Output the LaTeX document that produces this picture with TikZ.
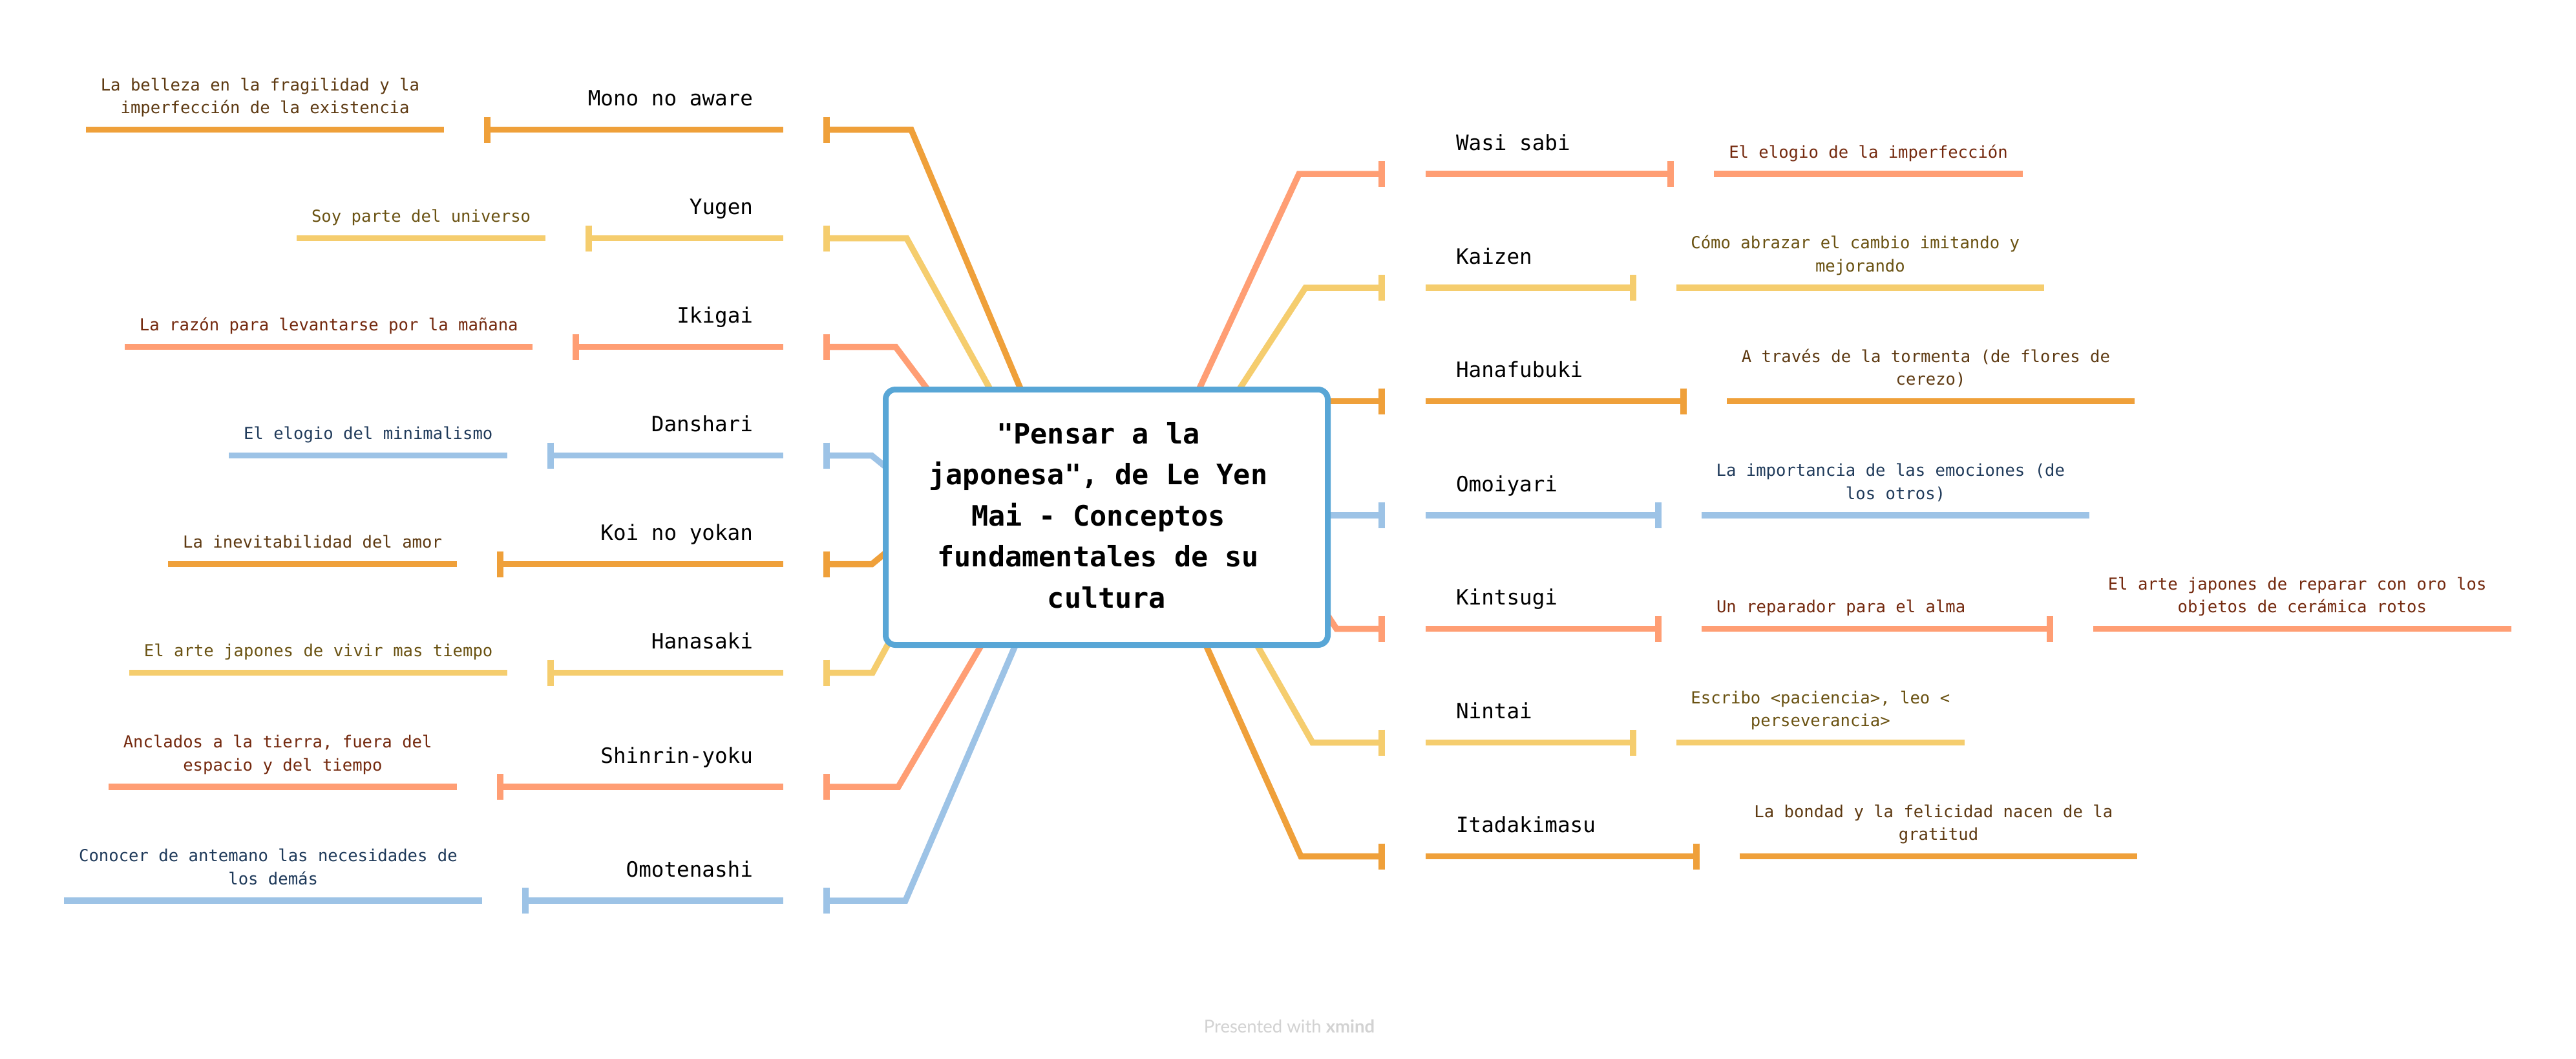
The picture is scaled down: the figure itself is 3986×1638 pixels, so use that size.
\documentclass[tikz,border=0pt]{standalone}
\usepackage{fontspec}
\setmonofont{DejaVu Sans Mono}
\newfontfamily\footfont{Lato}
\definecolor{cOr}{HTML}{EFA03A}
\definecolor{cYe}{HTML}{F5CD6E}
\definecolor{cSa}{HTML}{FF9E74}
\definecolor{cBl}{HTML}{9DC3E6}
\definecolor{cBox}{HTML}{58A6D6}
\definecolor{tOr}{HTML}{5E3A12}
\definecolor{tYe}{HTML}{6A5212}
\definecolor{tSa}{HTML}{74290E}
\definecolor{tBl}{HTML}{1F3A5A}
\definecolor{footgray}{HTML}{D2D2D2}
\tikzset{
  conn/.style={line width=9.5pt, line cap=butt, line join=miter},
  tk/.style={line width=10pt, line cap=butt},
  maintxt/.style={inner sep=0pt, outer sep=0pt, text=black, font=\ttfamily\fontsize{32.6}{39}\selectfont},
  subtxt/.style={inner sep=0pt, outer sep=0pt, anchor=base, font=\ttfamily\fontsize{25.6}{35.5}\selectfont},
}
\newcommand\sublines[1]{\begin{tabular}[b]{@{}c@{}}#1\end{tabular}}
% #1 id, #2 y, #3 colour, #4 main tick x, #5 elbow x, #6 end point, #7 sub left, #8 sub right
\newcommand\branchL[8]{%
  \coordinate (#1-ct) at (1279,#2);
  \coordinate (#1-el) at (#5,#2);
  \coordinate (#1-en) at (#6);
  \coordinate (#1-mL) at (#4,#2);
  \coordinate (#1-mR) at (1212,#2);
  \coordinate (#1-sL) at (#7,#2);
  \coordinate (#1-sR) at (#8,#2);
  \draw[conn,#3] (#1-ct) -- (#1-el) -- (#1-en);
  \draw[conn,#3] (#1-mL) -- (#1-mR);
  \draw[conn,#3] (#1-sL) -- (#1-sR);
  \draw[tk,#3] ([yshift=20pt]#1-ct) -- ([yshift=-20pt]#1-ct);
  \draw[tk,#3] ([yshift=20pt]#1-mL) -- ([yshift=-20pt]#1-mL);
}
% #1 id, #2 y, #3 colour, #4 elbow x, #5 end point, #6 main tick x, #7 sub left, #8 sub right
\newcommand\branchR[8]{%
  \coordinate (#1-ct) at (2138,#2);
  \coordinate (#1-el) at (#4,#2);
  \coordinate (#1-en) at (#5);
  \coordinate (#1-mL) at (2206,#2);
  \coordinate (#1-mR) at (#6,#2);
  \coordinate (#1-sL) at (#7,#2);
  \coordinate (#1-sR) at (#8,#2);
  \draw[conn,#3] (#1-en) -- (#1-el) -- (#1-ct);
  \draw[conn,#3] (#1-mL) -- (#1-mR);
  \draw[conn,#3] (#1-sL) -- (#1-sR);
  \draw[tk,#3] ([yshift=20pt]#1-ct) -- ([yshift=-20pt]#1-ct);
  \draw[tk,#3] ([yshift=20pt]#1-mR) -- ([yshift=-20pt]#1-mR);
}
\begin{document}
\begin{tikzpicture}[x=1pt,y=-1pt]
\useasboundingbox[fill=white] (0,0) rectangle (3986,1638);

% ---------------- left side ----------------
\branchL{mono}{200.7}{cOr}{754.2}{1410}{1587,620}{133}{687.2}
\node[maintxt, anchor=base east] (mono) at (1165,163.7) {Mono no aware};
\node[subtxt, text=tOr] (mono-s) at (410.1,175.7) {\sublines{La belleza en la fragilidad y la\hphantom{x}\\imperfección de la existencia}};

\branchL{yugen}{368.7}{cYe}{911}{1403}{1542,620}{459.2}{844}
\node[maintxt, anchor=base east] (yugen) at (1165,331.7) {Yugen};
\node[subtxt, text=tYe] (yugen-s) at (651.6,343.7) {\sublines{Soy parte del universo}};

\branchL{ikigai}{536.7}{cSa}{891.4}{1386}{1448.5,620}{193.2}{824.4}
\node[maintxt, anchor=base east] (ikigai) at (1165,499.7) {Ikigai};
\node[subtxt, text=tSa] (ikigai-s) at (508.8,511.7) {\sublines{La razón para levantarse por la mañana}};

\branchL{dansh}{704.7}{cBl}{852.2}{1349}{1385,734}{354.2}{785.2}
\node[maintxt, anchor=base east] (dansh) at (1165,667.7) {Danshari};
\node[subtxt, text=tBl] (dansh-s) at (569.7,679.7) {\sublines{El elogio del minimalismo}};

\branchL{koi}{872.7}{cOr}{773.8}{1349}{1385,843}{260.4}{706.8}
\node[maintxt, anchor=base east] (koi) at (1165,835.7) {Koi no yokan};
\node[subtxt, text=tOr] (koi-s) at (483.6,847.7) {\sublines{La inevitabilidad del amor}};

\branchL{hanas}{1040.7}{cYe}{852.2}{1350}{1383,980}{200.2}{785.2}
\node[maintxt, anchor=base east] (hanas) at (1165,1003.7) {Hanasaki};
\node[subtxt, text=tYe] (hanas-s) at (492.7,1015.7) {\sublines{El arte japones de vivir mas tiempo}};

\branchL{shin}{1217}{cSa}{773.8}{1390}{1529,980}{168}{706.8}
\node[maintxt, anchor=base east] (shin) at (1165,1180) {Shinrin-yoku};
\node[subtxt, text=tSa] (shin-s) at (437.4,1192) {\sublines{Anclados a la tierra, fuera del\hphantom{x}\\espacio y del tiempo}};

\branchL{omot}{1393}{cBl}{813}{1401}{1579,980}{99.4}{746}
\node[maintxt, anchor=base east] (omot) at (1165,1356) {Omotenashi};
\node[subtxt, text=tBl] (omot-s) at (422.7,1368) {\sublines{Conocer de antemano las necesidades de\hphantom{x}\\los demás}};

% ---------------- right side ----------------
\branchR{wasi}{269}{cSa}{2010}{1847,620}{2585.4}{2652.4}{3129.6}
\node[maintxt, anchor=base west] (wasi) at (2253,232) {Wasi sabi};
\node[subtxt, text=tSa] (wasi-s) at (2891,244) {\sublines{El elogio de la imperfección}};

\branchR{kaizen}{445}{cYe}{2020}{1906,620}{2526.6}{2593.6}{3163.2}
\node[maintxt, anchor=base west] (kaizen) at (2253,408) {Kaizen};
\node[subtxt, text=tYe] (kaizen-s) at (2878.4,420) {\sublines{Cómo abrazar el cambio imitando y\hphantom{x}\\mejorando}};

\branchR{hanaf}{620.7}{cOr}{2060}{2040,620.7}{2605}{2672}{3303.2}
\node[maintxt, anchor=base west] (hanaf) at (2253,583.7) {Hanafubuki};
\node[subtxt, text=tOr] (hanaf-s) at (2987.6,595.7) {\sublines{A través de la tormenta (de flores de\hphantom{x}\\cerezo)}};

\branchR{omoi}{797}{cBl}{2060}{2040,797}{2565.8}{2632.8}{3233.2}
\node[maintxt, anchor=base west] (omoi) at (2253,760) {Omoiyari};
\node[subtxt, text=tBl] (omoi-s) at (2933,772) {\sublines{La importancia de las emociones (de\hphantom{x}\\los otros)}};

\branchR{kints}{972.7}{cSa}{2068}{2040,930}{2565.8}{2632.8}{3172}
\draw[tk,cSa] ([yshift=20pt]kints-sR) -- ([yshift=-20pt]kints-sR);
\coordinate (kints-ssL) at (3239,972.7);
\coordinate (kints-ssR) at (3885.6,972.7);
\draw[conn,cSa] (kints-ssL) -- (kints-ssR);
\node[maintxt, anchor=base west] (kints) at (2253,935.7) {Kintsugi};
\node[subtxt, anchor=base west, text=tSa] (kints-s) at (2656,947.7) {Un reparador para el alma};
\node[subtxt, text=tSa] (kints-ss) at (3562.3,947.7) {\sublines{El arte japones de reparar con oro los\hphantom{x}\\objetos de cerámica rotos}};

\branchR{nintai}{1148.7}{cYe}{2031}{1935,980}{2526.6}{2593.6}{3040}
\node[maintxt, anchor=base west] (nintai) at (2253,1111.7) {Nintai};
\node[subtxt, text=tYe] (nintai-s) at (2816.8,1123.7) {\sublines{Escribo <paciencia>, leo <\\perseverancia>}};

\branchR{itada}{1324.7}{cOr}{2013}{1858,980}{2624.6}{2691.6}{3307.4}
\node[maintxt, anchor=base west] (itada) at (2253,1287.7) {Itadakimasu};
\node[subtxt, text=tOr] (itada-s) at (2999.5,1299.7) {\sublines{La bondad y la felicidad nacen de la\hphantom{x}\\gratitud}};

% ---------------- central topic ----------------
\node[draw=cBox, line width=9pt, rounded corners=15pt, fill=white, minimum width=684pt, minimum height=395pt, inner sep=0pt] (center) at (1712.5,800) {};
\node[inner sep=0pt, anchor=base, text=black, font=\ttfamily\bfseries\fontsize{43.5}{63.5}\selectfont] (title) at (1712.5,940) {\sublines{"Pensar a la\hphantom{x}\\japonesa", de Le Yen\hphantom{x}\\Mai - Conceptos\hphantom{x}\\fundamentales de su\hphantom{x}\\cultura}};

% ---------------- footer ----------------
\node[inner sep=0pt, anchor=base, text=footgray, font=\footfont\fontsize{27.5}{32}\selectfont] (foot) at (1995,1597) {Presented with \textbf{xmind}};
\end{tikzpicture}
\end{document}
